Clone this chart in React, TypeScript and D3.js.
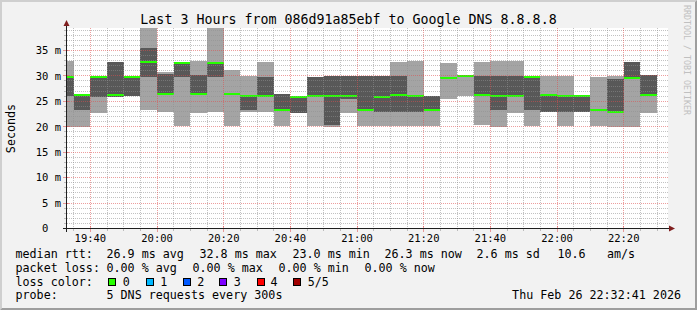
import React from 'react';
import * as d3 from 'd3';

// ---------------- data ----------------
const title = 'Last 3 Hours from 086d91a85ebf to Google DNS 8.8.8.8';
const yAxisTitle = 'Seconds';
const watermark = 'RRDTOOL / TOBI OETIKER';

const windowStart = '2026-02-26T19:32:41';
const windowEnd = '2026-02-26T22:32:41';
const firstBin = '2026-02-26T19:30:00';
const stepMinutes = 5;
const yMax = 39.32;

// ms values of the 5 sorted pings per 5-minute step
const pingMin = [20.0, 20.0, 22.75, 25.9, 26.0, 23.3, 22.95, 20.1, 22.75, 22.95, 20.1, 22.85, 22.95, 20.1, 22.8, 20.1, 20.0, 22.8, 20.1, 20.1, 20.1, 20.1, 20.1, 25.5, 26.0, 20.3, 20.0, 22.75, 20.1, 23.0, 20.1, 22.95, 20.15, 20.0, 20.0, 22.8];
const ping2 = [26.0, 23.3, 25.9, 25.9, 26.0, 29.8, 26.4, 29.8, 26.4, 29.8, 26.4, 23.3, 26.1, 23.3, 22.8, 26.1, 20.3, 25.5, 23.3, 22.95, 22.95, 22.95, 23.3, 29.5, 29.9, 26.1, 23.3, 25.9, 23.3, 23.0, 22.95, 22.95, 23.3, 23.0, 29.4, 26.2];
const median = [29.8, 26.2, 29.8, 26.2, 29.8, 32.8, 26.5, 32.5, 26.5, 32.5, 26.5, 26.1, 26.1, 23.3, 25.9, 26.1, 26.1, 26.1, 23.3, 25.9, 26.2, 26.1, 23.3, 29.5, 30.0, 26.2, 26.1, 26.1, 29.8, 26.3, 26.1, 26.1, 23.3, 23.0, 29.5, 26.3];
const ping4 = [29.8, 26.2, 29.8, 32.7, 29.8, 35.5, 30.35, 32.5, 30.2, 32.5, 26.6, 26.1, 29.8, 26.4, 25.9, 29.8, 30.0, 30.0, 30.0, 30.0, 30.0, 26.1, 26.1, 29.5, 30.0, 30.0, 30.0, 30.0, 29.8, 26.3, 26.1, 26.1, 23.3, 29.3, 32.7, 30.2];
const pingMax = [33.0, 26.2, 29.8, 32.7, 29.8, 40.0, 30.8, 32.5, 32.9, 40.0, 31.1, 30.0, 32.8, 26.4, 25.9, 29.8, 30.0, 30.0, 30.0, 30.0, 32.8, 33.0, 26.1, 32.6, 30.0, 32.8, 33.0, 33.0, 29.8, 30.0, 30.0, 26.1, 29.8, 30.0, 32.7, 30.2];

const yTicks = [0, 5, 10, 15, 20, 25, 30, 35];
const yTickLabels = ['0\u00a0\u00a0', '5 m', '10 m', '15 m', '20 m', '25 m', '30 m', '35 m'];
const xTickLabels = ['19:40', '20:00', '20:20', '20:40', '21:00', '21:20', '21:40', '22:00', '22:20'];

const line1Texts = ['median rtt:', '26.9 ms avg', '32.8 ms max', '23.0 ms min', '26.3 ms now', '2.6 ms sd', '10.6', 'am/s'];
const line2Texts = ['packet loss:', '0.00 % avg', '0.00 % max', '0.00 % min', '0.00 % now'];
const lossLabel = 'loss color:';
const lossNames = ['0', '1', '2', '3', '4', '5/5'];
const lossColors = ['#26ff00', '#00b8ff', '#0059ff', '#7e00ff', '#ff0000', '#a10000'];
const probeLabel = 'probe:';
const probeText = '5 DNS requests every 300s';
const dateText = 'Thu Feb 26 22:32:41 2026';

// ---------------- layout ----------------
const W = 697, H = 310;
const X0 = 66, X1 = 666, Y0 = 228.5, Y1 = 28.5;
const line1X = [15.5, 106.5, 199.5, 292.5, 384.5, 476.5, 557.5, 607];
const line2X = [15.5, 106.5, 192.5, 278.5, 364.5];
const boxX = [108, 145.5, 182.5, 219, 256.5, 293];
const lossTextX = [122.8, 160.2, 197.2, 233.8, 270.5, 307.8];
const baselines = [258.3, 271.8, 285.5, 299];
const MONO = '"DejaVu Sans Mono", monospace';

export default function App() {
  const parse = d3.timeParse('%Y-%m-%dT%H:%M:%S');
  const t0 = parse(windowStart)!;
  const t1 = parse(windowEnd)!;
  const fb = parse(firstBin)!;
  const x = d3.scaleTime().domain([t0, t1]).range([X0, X1]);
  const y = d3.scaleLinear().domain([0, yMax]).range([Y0, Y1]);

  const canvasL = 67, canvasR = 668, canvasT = 28, canvasB = 228;
  const cy = (v: number) => Math.max(canvasT, Math.min(canvasB + 1, Math.round(y(v))));

  const bins = median.map((m, i) => {
    const a = d3.timeMinute.offset(fb, i * stepMinutes);
    const b = d3.timeMinute.offset(a, stepMinutes);
    const xa = Math.max(canvasL, Math.round(x(a)));
    const xb = Math.min(canvasR, Math.round(x(b)));
    return { xa, xb, i };
  });

  const minorTimes = d3.timeMinute.every(5)!.range(t0, t1);
  const hm = d3.timeFormat('%H:%M');
  const majorSet = new Set(xTickLabels);
  const minorV = minorTimes.filter((t) => !majorSet.has(hm(t)));
  const majorV = minorTimes.filter((t) => majorSet.has(hm(t)));
  const minorH = d3.range(1, Math.floor(yMax) + 1).filter((v) => v % 5 !== 0);
  const majorH = yTicks.filter((v) => v > 0);

  const px = (v: number) => Math.floor(v) + 0.5;
  const gridMinor = 'rgba(143,143,143,0.55)';
  const gridMajor = 'rgba(222,79,79,0.55)';

  return (
    <svg width={W} height={H} style={{ position: 'fixed', left: 0, top: 0 }} fontFamily={MONO}>
      <rect x={0} y={0} width={W} height={H} fill="#f2f2f2" />
      <path d={`M0,0 H${W} L${W - 2},2 H2 V${H - 2} L0,${H} Z`} fill="#cfcfcf" />
      <path d={`M${W},0 V${H} H0 L2,${H - 2} H${W - 2} V2 Z`} fill="#9e9e9e" />
      <rect x={canvasL} y={canvasT} width={canvasR - canvasL} height={canvasB - canvasT + 1} fill="#ffffff" />

      {/* smoke */}
      {bins.map((b) => (
        <rect key={'l' + b.i} x={b.xa} width={b.xb - b.xa} y={cy(pingMax[b.i])} height={cy(pingMin[b.i]) - cy(pingMax[b.i])} fill="#a4a4a4" />
      ))}
      {bins.map((b) => (
        <rect key={'d' + b.i} x={b.xa} width={b.xb - b.xa} y={cy(ping4[b.i])} height={cy(ping2[b.i]) - cy(ping4[b.i])} fill="#585858" />
      ))}
      {bins.map((b) => (
        <rect key={'m' + b.i} x={b.xa} width={b.xb - b.xa} y={Math.round(y(median[b.i])) - 1} height={2} fill={lossColors[0]} />
      ))}

      {/* grid */}
      <g strokeWidth={1} strokeDasharray="1,1" shapeRendering="crispEdges">
        {minorH.map((v) => (
          <line key={'mh' + v} x1={canvasL} x2={canvasR} y1={px(y(v))} y2={px(y(v))} stroke={gridMinor} />
        ))}
        {minorV.map((t, i) => (
          <line key={'mv' + i} x1={px(x(t))} x2={px(x(t))} y1={canvasT} y2={canvasB} stroke={gridMinor} />
        ))}
        {majorH.map((v) => (
          <line key={'Mh' + v} x1={canvasL} x2={canvasR} y1={px(y(v))} y2={px(y(v))} stroke={gridMajor} />
        ))}
        {majorV.map((t, i) => (
          <line key={'Mv' + i} x1={px(x(t))} x2={px(x(t))} y1={canvasT} y2={canvasB} stroke={gridMajor} />
        ))}
      </g>

      {/* tick marks */}
      <g shapeRendering="crispEdges">
        {minorV.map((t, i) => (
          <line key={'tm' + i} x1={px(x(t))} x2={px(x(t))} y1={229} y2={231} stroke={gridMinor} />
        ))}
        {majorV.map((t, i) => (
          <line key={'tM' + i} x1={px(x(t))} x2={px(x(t))} y1={226} y2={232} stroke={gridMajor} />
        ))}
        {yTicks.map((v) => (
          <line key={'ty' + v} x1={63} x2={69} y1={px(y(v))} y2={px(y(v))} stroke={v === 0 ? '#1f1f1f' : gridMajor} />
        ))}
        {minorH.map((v) => (
          <line key={'tyn' + v} x1={64} x2={66} y1={px(y(v))} y2={px(y(v))} stroke={gridMinor} />
        ))}
        {/* axes */}
        <line x1={63} x2={670} y1={228.5} y2={228.5} stroke="#1f1f1f" />
        <line x1={66.5} x2={66.5} y1={232} y2={25} stroke="#1f1f1f" />
      </g>
      <path d="M669,225.5 L675,228.5 L669,231.5 Z" fill="#801f1f" />
      <path d="M63.5,26 L66.5,20 L69.5,26 Z" fill="#801f1f" />

      {/* y labels */}
      {yTicks.map((v, i) => (
        <text key={'yl' + v} x={61} y={y(v)} dy="0.36em" textAnchor="end" fontSize={10.5} fill="#000" style={{ whiteSpace: 'pre' }}>
          {yTickLabels[i]}
        </text>
      ))}
      {/* x labels */}
      {majorV.map((t, i) => (
        <text key={'xl' + i} x={x(t)} y={242} textAnchor="middle" fontSize={10.5} fill="#000">
          {hm(t)}
        </text>
      ))}

      <text x={348.5} y={24} textAnchor="middle" fontSize={13.3} fill="#000">{title}</text>
      <text transform="translate(15,128.5) rotate(-90)" textAnchor="middle" fontSize={11.7} fill="#000">{yAxisTitle}</text>
      <text transform="translate(684,5) rotate(90)" textAnchor="start" fontSize={8.3} fill="#c0c0c0">{watermark}</text>

      {/* legend */}
      <g fontSize={11.7} fill="#000" style={{ whiteSpace: 'pre' }}>
        {line1Texts.map((s, i) => (
          <text key={'a' + i} x={line1X[i]} y={baselines[0]}>{s}</text>
        ))}
        {line2Texts.map((s, i) => (
          <text key={'b' + i} x={line2X[i]} y={baselines[1]}>{s}</text>
        ))}
        <text x={15.5} y={baselines[2]}>{lossLabel}</text>
        {lossNames.map((s, i) => (
          <g key={'c' + i}>
            <rect x={boxX[i] + 0.5} y={278.5} width={7} height={7} fill={lossColors[i]} stroke="#000" strokeWidth={1} shapeRendering="crispEdges" />
            <text x={lossTextX[i]} y={baselines[2]}>{s}</text>
          </g>
        ))}
        <text x={15.5} y={baselines[3]}>{probeLabel}</text>
        <text x={106.5} y={baselines[3]}>{probeText}</text>
        <text x={681} y={baselines[3]} textAnchor="end">{dateText}</text>
      </g>
    </svg>
  );
}
